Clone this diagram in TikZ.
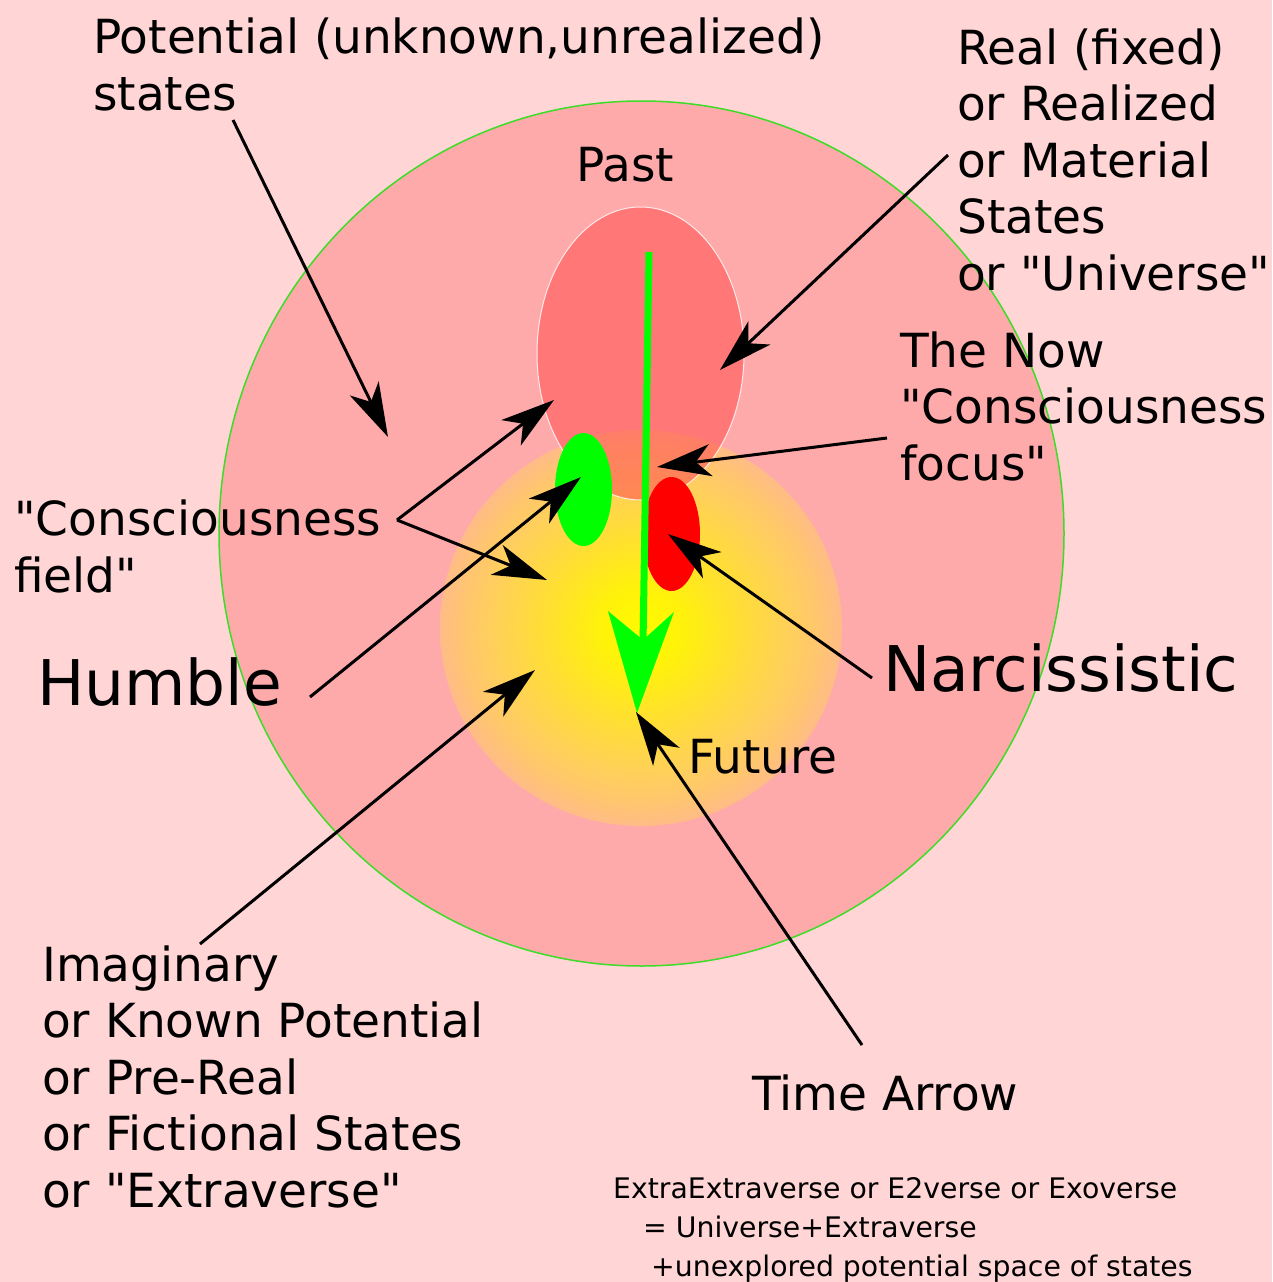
\documentclass[tikz,border=0pt]{standalone}
\usepackage{fontspec}
\newfontfamily\djv{DejaVu Sans}
\usetikzlibrary{arrows.meta,shapes.geometric}

\definecolor{bg}{RGB}{255,213,213}
\definecolor{univ}{RGB}{255,170,170}
\definecolor{pastc}{RGB}{255,85,85}
\definecolor{rim}{RGB}{60,220,40}
\definecolor{tgreen}{RGB}{0,255,0}
\definecolor{yA}{RGB}{255,250,0}
\definecolor{yB}{RGB}{255,242,10}
\definecolor{yC}{RGB}{255,225,45}
\definecolor{yD}{RGB}{255,210,85}
\definecolor{yE}{RGB}{255,198,110}
\definecolor{yF}{RGB}{255,188,135}

% TikZ maps the path's bounding box onto the central 50bp square of a shading
\pgfdeclareradialshading{yelshade}{\pgfpoint{0bp}{0bp}}{color(0bp)=(yA); color(5bp)=(yB); color(11bp)=(yC); color(17.5bp)=(yD); color(22bp)=(yE); color(25bp)=(yF); color(50bp)=(yF)}

\tikzset{
  lbl/.style={inner sep=0pt, anchor=base west, align=left, font=\djv\fontsize{47}{56.4}\selectfont},
  biglbl/.style={inner sep=0pt, anchor=base west, font=\djv\fontsize{63}{74}\selectfont},
  smalllbl/.style={inner sep=0pt, anchor=base west, align=left, font=\djv\fontsize{28.3}{39}\selectfont},
  ptr/.style={line width=3pt, -{Stealth[length=54pt,width=32pt,inset=15pt]}},
  blob/.style={ellipse, inner sep=0pt, draw=none},
}

\begin{document}
\begin{tikzpicture}[x=1pt,y=-1pt]
\fill[bg] (0,0) rectangle (1272,1282);
\useasboundingbox (0,0) rectangle (1272,1282);

% regions
\node[blob, fill=univ, draw=rim, line width=1.5pt, minimum width=845pt, minimum height=865pt] (universe) at (641.5,533.5) {};
\path[shading=yelshade] (641,628) ellipse [x radius=201pt, y radius=198pt];
\coordinate (extra) at (641,628);
\node[blob, fill=pastc, fill opacity=0.6, draw=white, draw opacity=0.8, line width=1pt, minimum width=207pt, minimum height=293pt] (past) at (640.5,353.5) {};
\node[blob, fill=tgreen, minimum width=57pt, minimum height=113pt] (humbleblob) at (583.5,489.5) {};
\node[blob, fill=red, minimum width=57pt, minimum height=114pt] (narcblob) at (671.5,534) {};

% time arrow (green)
\coordinate (tstart) at (649,252);
\coordinate (tnotch) at (643,645);
\draw[tgreen, line width=7pt] (tstart) -- (tnotch);
\fill[tgreen] (608,611) -- (643,640) -- (674,612) -- (637,713) -- cycle;

% labels (anchor = baseline of the last line)
\node[lbl] (potential) at (93,110) {Potential (unknown,unrealized)\\states};
\node[lbl] (real) at (957,290) {Real (fixed)\\or Realized\\or Material\\States\\or "Universe"};
\node[lbl] (pastlbl) at (576,181) {Past};
\node[lbl] (now) at (900,480) {The Now\\"Consciousness\\focus"};
\node[lbl] (field) at (14,592) {"Consciousness\\field"};
\node[biglbl] (humble) at (37,705) {Humble};
\node[biglbl] (narc) at (883,691) {Narcissistic};
\node[lbl] (future) at (688,773) {Future};
\node[lbl] (imag) at (42,1207) {Imaginary\\or Known Potential\\or Pre-Real\\or Fictional States\\or "Extraverse"};
\node[lbl] (timelbl) at (752,1110) {Time Arrow};
\node[smalllbl] (exo) at (613,1276) {ExtraExtraverse or E2verse or Exoverse\\\hspace*{30pt}= Universe+Extraverse\\\hspace*{38pt}+unexplored potential space of states};

% pointer coordinates
\coordinate (p1s) at (233,120);   \coordinate (p1t) at (388,437);
\coordinate (p2s) at (948,155);   \coordinate (p2t) at (720,370);
\coordinate (p3s) at (887,438);   \coordinate (p3t) at (657,467);
\coordinate (p4v) at (397,520);   \coordinate (p4a) at (554,400);  \coordinate (p4b) at (547,580);
\coordinate (p5s) at (310,697);   \coordinate (p5t) at (581,477);
\coordinate (p6s) at (872,678);   \coordinate (p6t) at (668,534);
\coordinate (p7s) at (200,944);   \coordinate (p7t) at (535,670);
\coordinate (p8s) at (862,1045);  \coordinate (p8t) at (636,712);

\draw[ptr] (p1s) -- (p1t);
\draw[ptr] (p2s) -- (p2t);
\draw[ptr] (p3s) -- (p3t);
\draw[ptr] (p4v) -- (p4a);
\draw[ptr] (p4v) -- (p4b);
\draw[ptr] (p5s) -- (p5t);
\draw[ptr] (p6s) -- (p6t);
\draw[ptr] (p7s) -- (p7t);
\draw[ptr] (p8s) -- (p8t);
\end{tikzpicture}
\end{document}
